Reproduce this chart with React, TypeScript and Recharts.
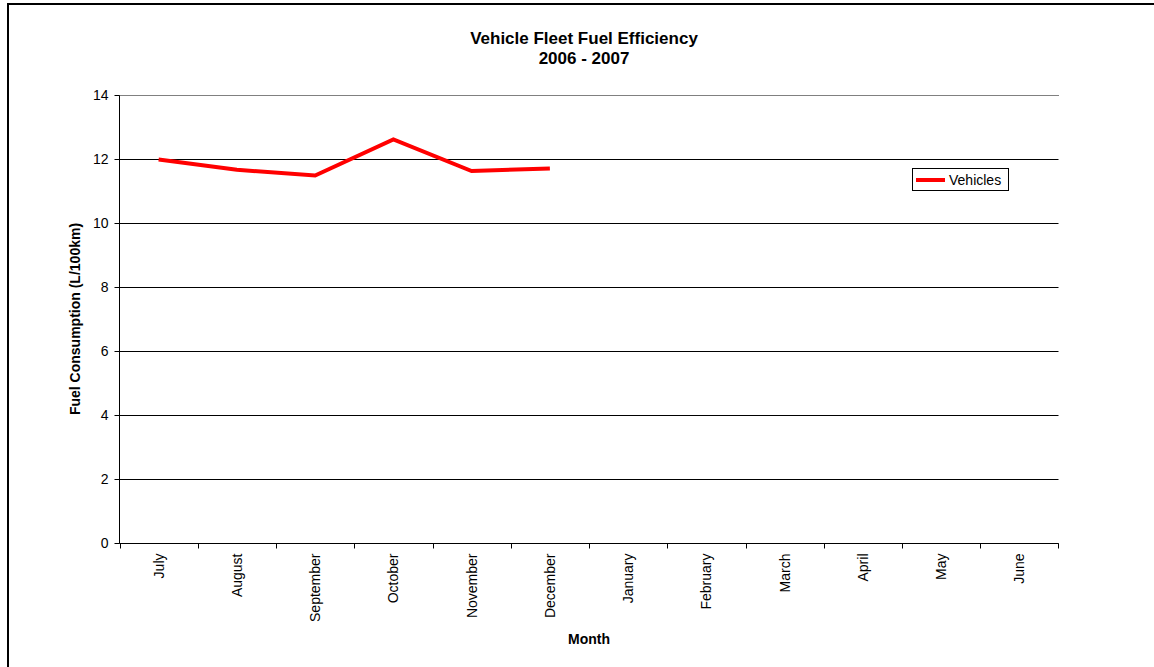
import React from "react";
import {
  LineChart,
  Line,
  XAxis,
  YAxis,
  CartesianGrid,
  ReferenceLine,
  Legend,
} from "recharts";

const months = [
  "July",
  "August",
  "September",
  "October",
  "November",
  "December",
  "January",
  "February",
  "March",
  "April",
  "May",
  "June",
];
const vehicles: (number | null)[] = [12.0, 11.68, 11.5, 12.63, 11.64, 11.72, null, null, null, null, null, null];
const yTicks = [0, 2, 4, 6, 8, 10, 12, 14];

const data = months.map((m, i) => ({ month: m, Vehicles: vehicles[i] }));

const W = 1154;
const H = 667;
const M_LEFT = 119.5;
const M_RIGHT = 95.5;
const M_TOP = 95.5;
const X_H = 123.5;
const BAND = (W - M_LEFT - M_RIGHT) / months.length;
const FONT = '"Liberation Sans", Arial, sans-serif';

const XTick = (props: any) => {
  const { x, y, payload, index } = props;
  const left = Math.round(x - BAND / 2) + 0.5;
  const right = Math.round(x + BAND / 2) - 0.5;
  return (
    <g>
      <line x1={left} y1={y} x2={left} y2={y + 5} stroke="#000" strokeWidth={1} />
      {index === months.length - 1 && (
        <line x1={right} y1={y} x2={right} y2={y + 5} stroke="#000" strokeWidth={1} />
      )}
      <text
        x={x}
        y={y + 10}
        transform={`rotate(-90, ${x}, ${y + 10})`}
        textAnchor="end"
        dominantBaseline="central"
        fill="#000"
        fontSize={14}
        fontFamily={FONT}
      >
        {payload.value}
      </text>
    </g>
  );
};

const LegendBox = (props: any) => {
  const { payload } = props;
  return (
    <div>
      {(payload || []).map((p: any) => (
        <div
          key={p.value}
          style={{
            boxSizing: "border-box",
            width: 97,
            height: 23,
            border: "1px solid #000",
            background: "#fff",
            display: "flex",
            alignItems: "center",
            paddingLeft: 3,
            fontFamily: FONT,
            fontSize: 14,
            color: "#000",
          }}
        >
          <div style={{ width: 29, height: 4, background: p.color, marginRight: 4 }} />
          <span>{p.value}</span>
        </div>
      ))}
    </div>
  );
};

export default function App() {
  return (
    <div
      style={{
        position: "fixed",
        left: 0,
        top: 0,
        width: W,
        height: H,
        overflow: "hidden",
        background: "#fff",
        fontFamily: FONT,
      }}
    >
      <div
        style={{
          position: "absolute",
          left: 7,
          top: 3,
          width: 3000,
          height: 3000,
          border: "2px solid #000",
        }}
      />
      <div
        style={{
          position: "absolute",
          left: 584 - 300,
          top: 29,
          width: 600,
          textAlign: "center",
          fontWeight: "bold",
          fontSize: 17,
          lineHeight: "20px",
          color: "#000",
        }}
      >
        Vehicle Fleet Fuel Efficiency
        <br />
        2006 - 2007
      </div>
      <div
        style={{
          position: "absolute",
          left: 589 - 100,
          top: 631,
          width: 200,
          textAlign: "center",
          fontWeight: "bold",
          fontSize: 14,
          color: "#000",
        }}
      >
        Month
      </div>
      <div
        style={{
          position: "absolute",
          left: 75 - 150,
          top: 319 - 9,
          width: 300,
          height: 18,
          lineHeight: "18px",
          textAlign: "center",
          fontWeight: "bold",
          fontSize: 14,
          color: "#000",
          transform: "rotate(-90deg)",
        }}
      >
        Fuel Consumption (L/100km)
      </div>
      <div style={{ position: "absolute", left: 0, top: 0 }}>
        <LineChart
          width={W}
          height={H}
          data={data}
          margin={{ top: M_TOP, right: M_RIGHT, bottom: 0, left: 0 }}
        >
          <CartesianGrid yAxisId="left" vertical={false} stroke="#000" strokeWidth={1} />
          <ReferenceLine yAxisId="left" y={14} stroke="#808080" strokeWidth={1} />
          <XAxis
            dataKey="month"
            scale="band"
            height={X_H}
            interval={0}
            tickLine={false}
            tickSize={0}
            tickMargin={0}
            axisLine={{ stroke: "#000", strokeWidth: 1 }}
            tick={<XTick />}
          />
          <YAxis
            yAxisId="left"
            width={M_LEFT}
            domain={[0, 14]}
            ticks={yTicks}
            interval={0}
            tickSize={5}
            tickMargin={6}
            tickLine={{ stroke: "#000" }}
            axisLine={{ stroke: "#000", strokeWidth: 1 }}
            tick={{ fill: "#000", fontSize: 14, fontFamily: FONT }}
          />
          <YAxis
            yAxisId="right"
            orientation="right"
            width={0}
            domain={[0, 14]}
            tick={false}
            tickLine={false}
            axisLine={{ stroke: "#808080", strokeWidth: 1 }}
          />
          <Legend
            layout="horizontal"
            verticalAlign="middle"
            align="center"
            content={<LegendBox />}
            wrapperStyle={{ position: "absolute", left: 912, top: 168, width: 97, height: 23 }}
          />
          <Line
            yAxisId="left"
            type="linear"
            dataKey="Vehicles"
            stroke="#ff0000"
            strokeWidth={4}
            dot={false}
            activeDot={false}
            isAnimationActive={false}
          />
        </LineChart>
      </div>
    </div>
  );
}
